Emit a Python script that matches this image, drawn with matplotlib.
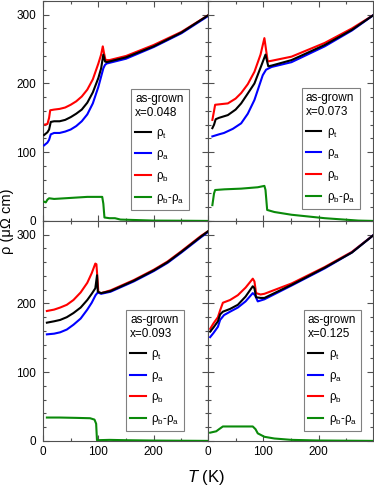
import numpy as np
import matplotlib
matplotlib.use("Agg")
import matplotlib.pyplot as plt
from matplotlib.ticker import MultipleLocator

plt.rcParams['font.family'] = ['Liberation Sans', 'DejaVu Sans']
plt.rcParams['mathtext.fontset'] = 'custom'
plt.rcParams['mathtext.rm'] = 'Liberation Sans'
plt.rcParams['mathtext.it'] = 'Liberation Sans:italic'

# ---------- data ----------
# panel x=0.048
T1_t = [2, 8, 11, 14, 20, 30, 40, 50, 60, 70, 80, 90, 100, 105, 109, 112, 115, 120, 150, 200, 250, 300]
r1_t = [125, 129, 133, 144, 145, 145, 147, 151, 156, 162, 172, 187, 208, 222, 242, 232, 231, 232, 238, 254, 274, 300]
T1_a = [2, 8, 11, 14, 20, 30, 40, 50, 60, 70, 80, 90, 100, 105, 109, 112, 115, 120, 150, 200, 250, 300]
r1_a = [110, 114, 118, 126, 128, 128, 130, 133, 138, 145, 155, 171, 195, 210, 222, 227, 229, 230, 236, 253, 273, 299]
T1_b = [2, 8, 11, 13, 20, 30, 40, 50, 60, 70, 80, 90, 100, 105, 108, 110, 113, 120, 150, 200, 250, 300]
r1_b = [140, 141, 150, 161, 162, 163, 165, 169, 174, 181, 191, 206, 229, 242, 254, 245, 234, 234, 240, 256, 275, 300]
T1_d = [2, 5, 8, 11, 20, 40, 60, 80, 100, 107, 109, 111, 120, 130, 140, 160, 200, 250, 300]
r1_d = [28, 27, 31, 33, 32, 33, 34, 35, 35, 35, 25, 5, 4, 4, 2, 1.5, 0.5, 0.3, 0]

# panel x=0.073
T2_t = [8, 11, 14, 20, 36, 50, 60, 70, 84, 96, 104, 109, 115, 151, 211, 260, 300]
r2_t = [135, 140, 148, 150, 154, 162, 171, 183, 200, 225, 242, 225, 226, 234, 256, 278, 300]
T2_a = [8, 20, 29, 45, 60, 72, 84, 99, 105, 115, 151, 211, 260, 300]
r2_a = [123, 126, 128, 134, 142, 156, 176, 212, 220, 224, 231, 254, 277, 300]
T2_b = [8, 11, 13, 36, 50, 60, 72, 84, 95, 102, 108, 115, 151, 211, 260, 300]
r2_b = [147, 160, 169, 171, 178, 186, 199, 217, 242, 266, 232, 233, 239, 259, 280, 300]
T2_d = [8, 11, 13, 30, 60, 90, 102, 104, 107, 120, 151, 211, 272, 300]
r2_d = [23, 40, 45, 46, 47, 49, 51, 45, 16, 13, 9, 4, 0.5, 0]

# panel x=0.093
T3_t = [7, 20, 31, 43, 55, 68, 80, 88, 94.5, 97.6, 99, 105, 122, 164, 200, 225, 250, 285, 300]
r3_t = [172, 174, 176, 180, 186, 194, 205, 214, 222, 241, 217, 215, 218, 233, 248, 260, 275, 297, 306]
T3_a = [7, 20, 31, 43, 55, 68, 80, 88, 95, 99, 105, 122, 164, 200, 225, 250, 285, 300]
r3_a = [155, 156, 158, 162, 169, 178, 191, 201, 212, 216, 214, 217, 232, 247, 259, 274, 296, 305]
T3_b = [7, 20, 31, 43, 55, 68, 80, 88, 94.5, 96.5, 98.5, 100, 105, 122, 164, 200, 225, 250, 285, 300]
r3_b = [189, 191, 194, 198, 205, 216, 230, 244, 258, 257, 235, 216, 215, 219, 234, 249, 261, 276, 298, 306]
T3_d = [7, 30, 60, 85, 93, 96, 97.5, 120, 150, 200, 300]
r3_d = [34, 34, 33.5, 33, 31, 25, 1, 1.5, 1, 0.5, 0]

# panel x=0.125
T4_t = [4, 10, 18, 22, 27, 40, 54, 68, 81, 84, 87, 95, 102, 151, 211, 260, 300]
r4_t = [159, 165, 174, 184, 188, 192, 198, 210, 225, 222, 209, 208, 208, 227, 252, 274, 300]
T4_a = [4, 10, 18, 22, 29, 40, 54, 68, 81, 85, 90, 102, 151, 211, 260, 300]
r4_a = [151, 157, 166, 176, 183, 188, 194, 203, 215, 212, 203, 206, 226, 251, 274, 300]
T4_b = [4, 10, 18, 22, 27, 40, 54, 68, 81, 84, 87, 95, 102, 151, 211, 260, 300]
r4_b = [163, 171, 180, 190, 201, 205, 212, 223, 236, 232, 215, 213, 214, 229, 253, 275, 300]
T4_d = [4, 15, 20, 27, 54, 75, 81, 86, 90, 102, 120, 151, 200, 300]
r4_d = [12, 14, 17, 21, 21, 21, 21, 17, 11, 6, 3.5, 1.5, 0.6, 0]

dopings = ['0.048', '0.073', '0.093', '0.125']
panels = [
    (T1_t, r1_t, T1_a, r1_a, T1_b, r1_b, T1_d, r1_d),
    (T2_t, r2_t, T2_a, r2_a, T2_b, r2_b, T2_d, r2_d),
    (T3_t, r3_t, T3_a, r3_a, T3_b, r3_b, T3_d, r3_d),
    (T4_t, r4_t, T4_a, r4_a, T4_b, r4_b, T4_d, r4_d),
]
legend_pos = [(0.534, 0.60), (0.569, 0.605), (0.503, 0.595), (0.58, 0.595)]

# ---------- figure ----------
fig, axes = plt.subplots(2, 2, figsize=(3.74, 4.88), dpi=100, sharex=True, sharey=True)
fig.subplots_adjust(left=0.115, right=0.997, top=0.998, bottom=0.0965, wspace=0, hspace=0)

for i, ax in enumerate(axes.flat):
    Tt, rt, Ta, ra, Tb, rb, Td, rd = panels[i]
    lt, = ax.plot(Tt, rt, color='black', lw=1.5, zorder=4)
    la, = ax.plot(Ta, ra, color='#0000ff', lw=1.5, zorder=3)
    lb, = ax.plot(Tb, rb, color='#ff0000', lw=1.5, zorder=2)
    ld, = ax.plot(Td, rd, color='#0a8a0a', lw=1.5, zorder=3)

    ax.set_xlim(0, 298)
    ax.set_ylim(0, 320)
    ax.xaxis.set_major_locator(MultipleLocator(100))
    ax.xaxis.set_minor_locator(MultipleLocator(50))
    ax.yaxis.set_major_locator(MultipleLocator(100))
    ax.yaxis.set_minor_locator(MultipleLocator(20))
    ax.tick_params(which='both', direction='in', top=True, right=True,
                   color='#505050', width=0.8, labelsize=8.5)
    ax.tick_params(which='major', length=4)
    ax.tick_params(which='minor', length=2)
    ax.tick_params(axis='y', pad=5)
    ax.tick_params(axis='x', pad=3.5)
    for s in ax.spines.values():
        s.set_color('#505050')
        s.set_linewidth(0.8)

    leg = ax.legend([lt, la, lb, ld],
                    ['ρ$_\\mathregular{t}$', 'ρ$_\\mathregular{a}$',
                     'ρ$_\\mathregular{b}$', 'ρ$_\\mathregular{b}$-ρ$_\\mathregular{a}$'],
                    title='as-grown\nx=' + dopings[i], title_fontsize=8.5, fontsize=8.3,
                    loc='upper left', bbox_to_anchor=legend_pos[i], borderaxespad=0,
                    alignment='left', fancybox=False, framealpha=1, edgecolor='#808080',
                    handlelength=1.35, handletextpad=0.5, labelspacing=0.68,
                    borderpad=0.35)
    leg.get_frame().set_linewidth(0.8)

# only the outer panels carry labels
axes[0, 0].set_xticks([0, 100, 200])

fig.text(0.02, 0.547, 'ρ (μΩ cm)', rotation=90, ha='center', va='center', fontsize=10.5)
fig.text(0.551, 0.022, '$T$ (K)', ha='center', va='center', fontsize=12)

fig.savefig('out.png', dpi=100)
